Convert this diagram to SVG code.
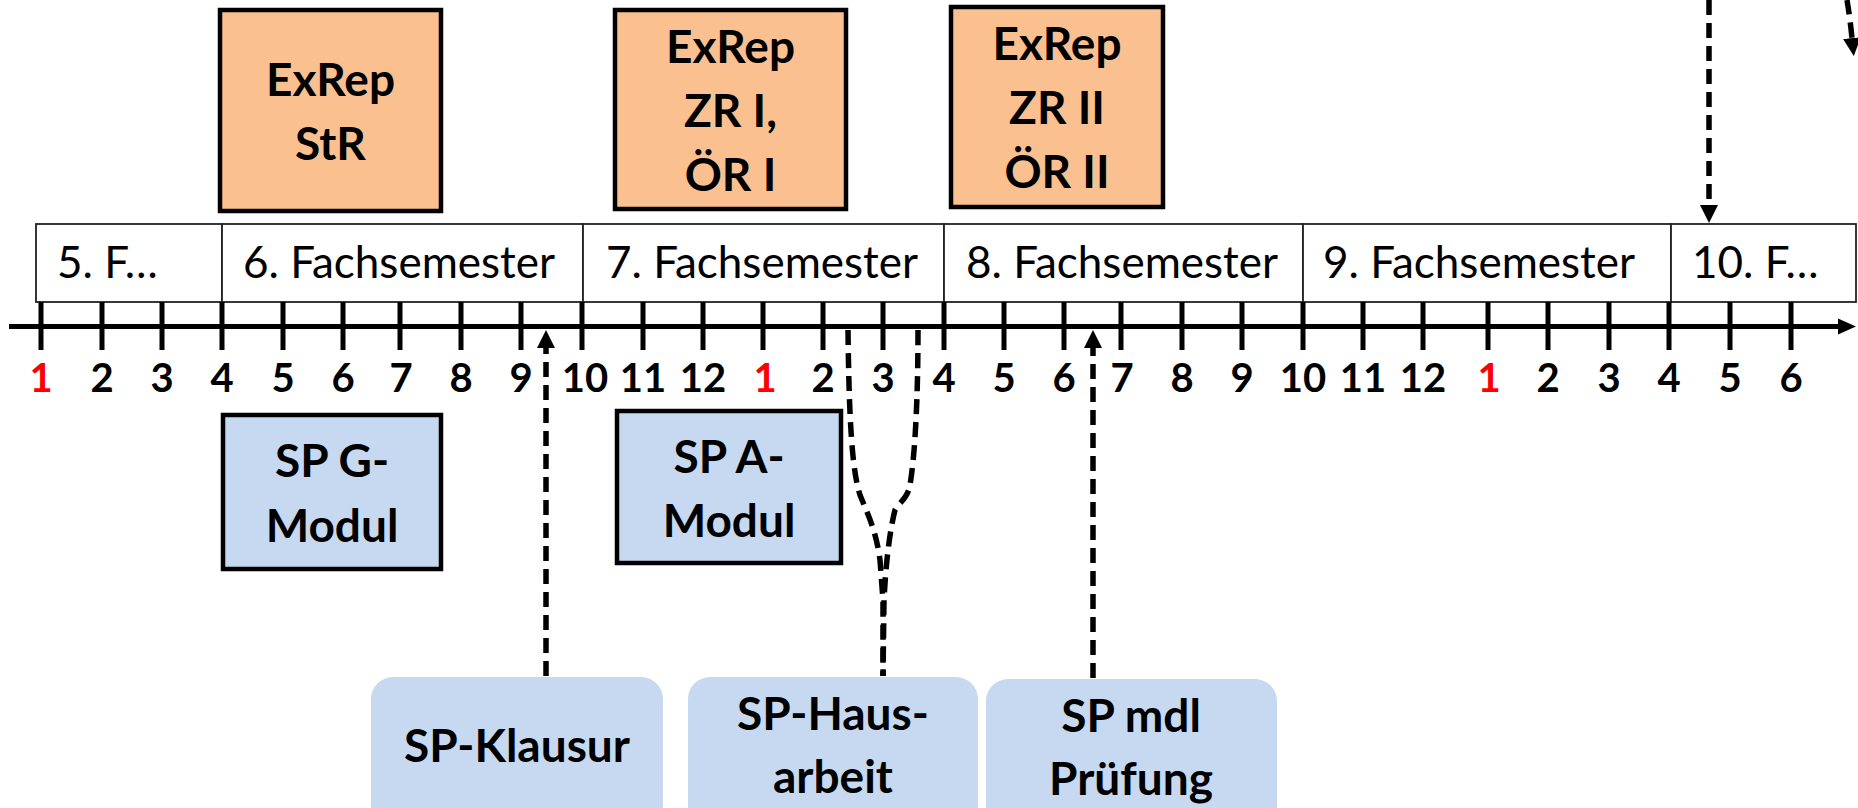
<svg xmlns="http://www.w3.org/2000/svg" width="1858" height="808" viewBox="0 0 1858 808">
<style>
.exrep{fill:#FAC090;stroke:#000;stroke-width:4.5}
.module{fill:#C6D9F1;stroke:#000;stroke-width:4.5}
.exam{fill:#C6D9F1;stroke:none}
.sem{fill:#fff;stroke:#222;stroke-width:1.8}
.bt{font-family:Lato,"Liberation Sans",sans-serif;font-weight:bold;font-size:46px;fill:#000;text-anchor:middle}
.st{font-family:Lato,"Liberation Sans",sans-serif;font-size:44px;fill:#000}
.num{font-family:Lato,"Liberation Sans",sans-serif;font-weight:bold;font-size:40px;fill:#000;text-anchor:middle}
.red{fill:#FF0000}
.dash{fill:none;stroke:#000;stroke-width:5.5;stroke-dasharray:15 8}
.axis{fill:none;stroke:#000;stroke-width:5}
</style>
<defs>
<marker id="arr" markerUnits="userSpaceOnUse" viewBox="0 0 18 18" markerWidth="18" markerHeight="18" refX="0" refY="9" orient="auto">
<path d="M0,0 L18,9 L0,18 Z" fill="#000"/>
</marker>
<marker id="axarr" markerUnits="userSpaceOnUse" viewBox="0 0 18 18" markerWidth="18" markerHeight="18" refX="0" refY="9" orient="auto">
<path d="M0,1 L18,9 L0,17 Z" fill="#000"/>
</marker>
</defs>

<g id="semesters">
<rect class="sem" x="36" y="224" width="186" height="78"/>
<rect class="sem" x="222" y="224" width="361" height="78"/>
<rect class="sem" x="583" y="224" width="361" height="78"/>
<rect class="sem" x="944" y="224" width="359" height="78"/>
<rect class="sem" x="1303" y="224" width="368" height="78"/>
<rect class="sem" x="1671" y="224" width="185" height="78"/>
<text class="st" x="57" y="278">5. F…</text>
<text class="st" x="243" y="278">6. Fachsemester</text>
<text class="st" x="606" y="278">7. Fachsemester</text>
<text class="st" x="966" y="278">8. Fachsemester</text>
<text class="st" x="1323" y="278">9. Fachsemester</text>
<text class="st" x="1692" y="278">10. F…</text>
</g>

<g id="timeline">
<path class="axis" d="M9,326.5 H1838" marker-end="url(#axarr)"/>
<path class="axis" d="M41,302V350 M102,302V350 M162,302V350 M222,302V350 M283,302V350 M343,302V350 M400,302V350 M461,302V350 M521,302V350 M582,302V350 M643,302V350 M703,302V350 M763,302V350 M823,302V350 M883,302V350 M944,302V350 M1004,302V350 M1064,302V350 M1121,302V350 M1182,302V350 M1242,302V350 M1303,302V350 M1363,302V350 M1423,302V350 M1488,302V350 M1548,302V350 M1609,302V350 M1669,302V350 M1730,302V350 M1791,302V350"/>
<text class="num red" x="41" y="392">1</text>
<text class="num" x="102" y="392">2</text>
<text class="num" x="162" y="392">3</text>
<text class="num" x="222" y="392">4</text>
<text class="num" x="283" y="392">5</text>
<text class="num" x="343" y="392">6</text>
<text class="num" x="401" y="392">7</text>
<text class="num" x="461" y="392">8</text>
<text class="num" x="521" y="392">9</text>
<text class="num" x="585" y="392">10</text>
<text class="num" x="643" y="392">11</text>
<text class="num" x="703" y="392">12</text>
<text class="num red" x="765" y="392">1</text>
<text class="num" x="823" y="392">2</text>
<text class="num" x="883" y="392">3</text>
<text class="num" x="944" y="392">4</text>
<text class="num" x="1004" y="392">5</text>
<text class="num" x="1064" y="392">6</text>
<text class="num" x="1122" y="392">7</text>
<text class="num" x="1182" y="392">8</text>
<text class="num" x="1242" y="392">9</text>
<text class="num" x="1303" y="392">10</text>
<text class="num" x="1363" y="392">11</text>
<text class="num" x="1423" y="392">12</text>
<text class="num red" x="1489" y="392">1</text>
<text class="num" x="1548" y="392">2</text>
<text class="num" x="1609" y="392">3</text>
<text class="num" x="1669" y="392">4</text>
<text class="num" x="1730" y="392">5</text>
<text class="num" x="1791" y="392">6</text>
</g>

<g id="exrep-str">
<rect class="exrep" x="220" y="10" width="221" height="201"/>
<text class="bt" x="330.5" y="96">ExRep</text>
<text class="bt" x="330.5" y="160">StR</text>
</g>
<g id="exrep-zr1">
<rect class="exrep" x="615" y="10" width="231" height="199"/>
<text class="bt" x="730.5" y="63">ExRep</text>
<text class="bt" x="730.5" y="127">ZR I,</text>
<text class="bt" x="730.5" y="191">ÖR I</text>
</g>
<g id="exrep-zr2">
<rect class="exrep" x="951" y="7" width="212" height="200"/>
<text class="bt" x="1057" y="60">ExRep</text>
<text class="bt" x="1057" y="124">ZR II</text>
<text class="bt" x="1057" y="188">ÖR II</text>
</g>

<g id="sp-g-modul">
<rect class="module" x="223" y="415" width="218" height="154"/>
<text class="bt" x="332" y="477">SP G-</text>
<text class="bt" x="332" y="542">Modul</text>
</g>
<g id="sp-a-modul">
<rect class="module" x="617" y="411" width="224" height="152"/>
<text class="bt" x="729" y="473">SP A-</text>
<text class="bt" x="729" y="537">Modul</text>
</g>

<g id="sp-klausur">
<rect class="exam" x="371" y="677" width="292" height="170" rx="22"/>
<text class="bt" x="517" y="762">SP-Klausur</text>
</g>
<g id="sp-hausarbeit">
<rect class="exam" x="688" y="677" width="290" height="170" rx="22"/>
<text class="bt" x="833" y="730">SP-Haus-</text>
<text class="bt" x="833" y="793">arbeit</text>
</g>
<g id="sp-mdl">
<rect class="exam" x="986" y="679" width="291" height="170" rx="22"/>
<text class="bt" x="1131" y="732">SP mdl</text>
<text class="bt" x="1131" y="795">Prüfung</text>
</g>

<g id="connectors">
<path class="dash" d="M546,676 V348" marker-end="url(#arr)"/>
<path class="dash" d="M1093,678 V348" marker-end="url(#arr)"/>
<path class="dash" d="M848,330 C849,420 852,470 860,495 C868,515 876,530 880,560 L883,600 L883,676"/>
<path class="dash" d="M918,330 C918,400 915,455 910,485 C907,500 899,502 895,510 C890,530 886,560 884,600 L883,676"/>
<path class="dash" d="M1709,0 V205" marker-end="url(#arr)"/>
<path class="dash" d="M1847,0 Q1850,18 1852,38" marker-end="url(#arr)"/>
</g>
</svg>
